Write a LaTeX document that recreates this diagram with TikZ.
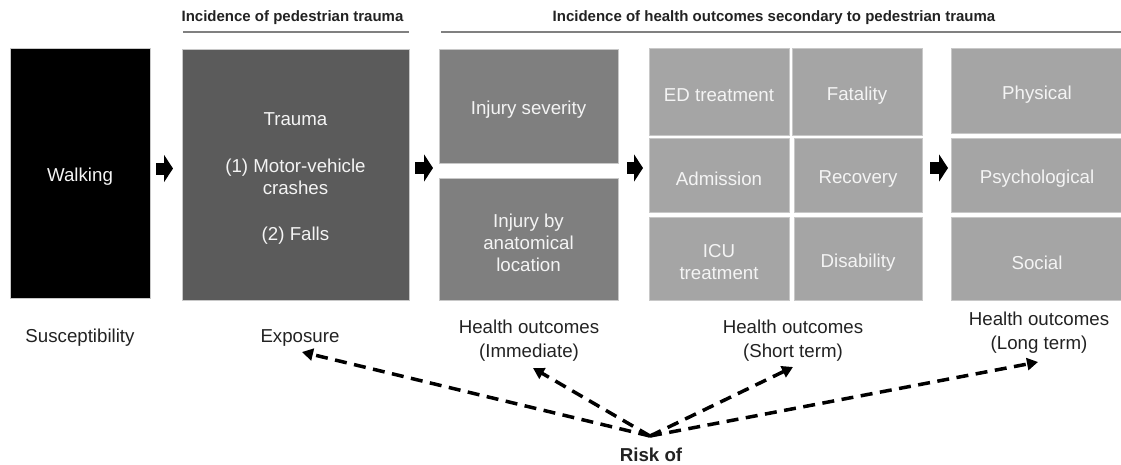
\documentclass[tikz,border=0pt]{standalone}
\usepackage{fontspec}
\setmainfont{Liberation Sans}
\usetikzlibrary{arrows.meta}
\definecolor{walkc}{HTML}{000000}
\definecolor{traumac}{HTML}{5B5B5B}
\definecolor{injc}{HTML}{7F7F7F}
\definecolor{outc}{HTML}{A5A5A5}
\definecolor{edgec}{HTML}{C8C8C8}
\definecolor{boxtxt}{HTML}{F4F4F4}
\definecolor{labtxt}{HTML}{222222}
\definecolor{rulec}{HTML}{808080}
\begin{document}
\begin{tikzpicture}[x=1pt,y=-1pt,
  box/.style={draw=edgec, line width=0.75pt, inner sep=0pt, outer sep=0pt},
  boxtext/.style={text=boxtxt, align=center, inner sep=0pt, yshift=-4pt,
    font=\fontsize{18.7}{22}\selectfont},
  lab/.style={text=labtxt, align=center, inner sep=0pt,
    font=\fontsize{18.7}{24}\selectfont},
  head/.style={text=labtxt, inner sep=0pt, font=\bfseries\fontsize{15}{18}\selectfont},
  hrule/.style={draw=rulec, line width=1.5pt},
  blockarrow/.style={draw=black, line width=12pt, -{Triangle[length=9pt,width=27pt]}},
  riskarrow/.style={draw=black, line width=3.5pt, dash pattern=on 12pt off 7.5pt,
    -{Triangle[length=11pt,width=12pt]}}
]
\useasboundingbox (0,0) rectangle (1121,464);

% headers
\node[head] (h1) at (292.5,18) {Incidence of pedestrian trauma};
\node[head] (h2) at (774,18) {Incidence of health outcomes secondary to pedestrian trauma};
\draw[hrule] (183,32) -- (409,32);
\draw[hrule] (441,32) -- (1121,32);

% column 1
\node[box, fill=walkc, minimum width=140pt, minimum height=250pt,
  label={[boxtext]center:Walking}] (walk) at (80,173) {};
% column 2
\node[box, fill=traumac, minimum width=227pt, minimum height=251pt,
  label={[boxtext]center:{Trauma\\[25pt](1) Motor-vehicle\\crashes\\[24pt](2) Falls}}] (trauma) at (295.5,174.5) {};
% column 3
\node[box, fill=injc, minimum width=179pt, minimum height=114pt,
  label={[boxtext]center:Injury severity}] (injsev) at (528.5,106) {};
\node[box, fill=injc, minimum width=179pt, minimum height=122pt,
  label={[boxtext]center:{Injury by\\anatomical\\location}}] (injloc) at (528.5,239) {};
% column 4 (grid)
\node[box, fill=outc, minimum width=140pt, minimum height=87pt,
  label={[boxtext]center:ED treatment}] (ed) at (719,91.5) {};
\node[box, fill=outc, minimum width=130pt, minimum height=87pt,
  label={[boxtext]center:Fatality}] (fat) at (857,91.5) {};
\node[box, fill=outc, minimum width=140pt, minimum height=74pt,
  label={[boxtext]center:Admission}] (adm) at (719,175) {};
\node[box, fill=outc, minimum width=128pt, minimum height=74pt,
  label={[boxtext]center:Recovery}] (rec) at (858,175) {};
\node[box, fill=outc, minimum width=140pt, minimum height=83pt,
  label={[boxtext]center:{ICU\\treatment}}] (icu) at (719,258.5) {};
\node[box, fill=outc, minimum width=128pt, minimum height=83pt,
  label={[boxtext]center:Disability}] (dis) at (858,258.5) {};
% column 5
\node[box, fill=outc, minimum width=172pt, minimum height=85pt,
  label={[boxtext]center:Physical}] (phys) at (1037,90.5) {};
\node[box, fill=outc, minimum width=172pt, minimum height=74pt,
  label={[boxtext]center:Psychological}] (psy) at (1037,175) {};
\node[box, fill=outc, minimum width=172pt, minimum height=83pt,
  label={[boxtext]center:Social}] (soc) at (1037,258.5) {};

% block arrows
\draw[blockarrow, shorten <=6pt, shorten >=9pt] ([yshift=4.5pt]walk.east) -- ([yshift=4.5pt]walk.east -| trauma.west);
\draw[blockarrow, shorten <=6pt, shorten >=6pt] ([yshift=6.5pt]trauma.east) -- ([yshift=6.5pt]trauma.east -| injloc.west);
\draw[blockarrow, shorten <=9pt, shorten >=6pt] (adm.west -| injloc.east) ++(0,-7) coordinate (a3s) -- (a3s -| adm.west);
\draw[blockarrow, shorten <=8pt, shorten >=3pt] ([yshift=7pt]rec.east) -- ([yshift=7pt]rec.east -| psy.west);

% bottom labels
\node[lab] (susc) at (80,338) {Susceptibility};
\node[lab] (expo) at (300,338) {Exposure};
\node[lab] (hoi) at (529,341) {Health outcomes\\(Immediate)};
\node[lab] (hos) at (793,341) {Health outcomes\\(Short term)};
\node[lab] (hol) at (1039,333) {Health outcomes\\(Long term)};
\node[lab, font=\bfseries\fontsize{18.7}{22}\selectfont] (risk) at (651,455) {Risk of};

% risk arrows
\coordinate (src) at (650,436);
\coordinate (t1) at (302,352);
\coordinate (t2) at (533,368);
\coordinate (t3) at (793,367);
\coordinate (t4) at (1038,362);
\draw[riskarrow] (src) -- (t1);
\draw[riskarrow] (src) -- (t2);
\draw[riskarrow] (src) -- (t3);
\draw[riskarrow] (src) -- (t4);
\end{tikzpicture}
\end{document}
